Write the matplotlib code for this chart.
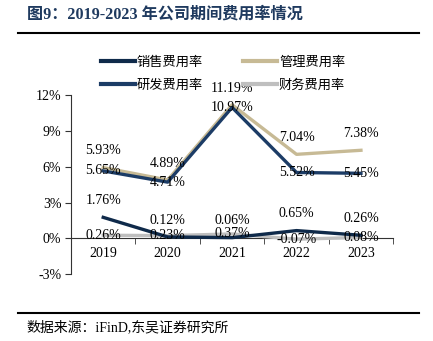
import numpy as np
import matplotlib.pyplot as plt
from matplotlib.lines import Line2D

plt.rcParams['font.family'] = ['Liberation Serif', 'Noto Sans CJK SC', 'DejaVu Sans']

years = ["2019", "2020", "2021", "2022", "2023"]
sales = [1.76, 0.12, 0.06, 0.65, 0.26]
admin = [5.93, 4.89, 11.19, 7.04, 7.38]
rnd = [5.65, 4.71, 10.97, 5.52, 5.45]
finance = [0.26, 0.23, 0.37, -0.07, 0.08]
series_names = ["销售费用率", "管理费用率", "研发费用率", "财务费用率"]

c_sales = "#0f2a4a"
c_admin = "#c7ba95"
c_rnd = "#1c3c66"
c_fin = "#bfbfbf"

fig = plt.figure(figsize=(4.33, 3.41), dpi=100)
ax = fig.add_axes([0.164, 0.196, 0.744, 0.525])

x = np.arange(len(years))
lw = 2.4
ax.plot(x, finance, color=c_fin, lw=lw, zorder=3)
ax.plot(x, admin, color=c_admin, lw=lw, zorder=4)
ax.plot(x, rnd, color=c_rnd, lw=lw, zorder=5)
ax.plot(x, sales, color=c_sales, lw=lw, zorder=6)

fs = 10
# sales and admin labels sit above the point, R&D and finance on it
for vals, dy in [(sales, 12), (admin, 12), (rnd, 0), (finance, 0)]:
    for xi, v in zip(x, vals):
        ax.annotate(f"{v:.2f}%", (xi, v), xytext=(0, dy), textcoords="offset points",
                    ha="center", va="center", fontsize=fs, zorder=10)

ax.set_xlim(-0.5, len(years) - 0.5)
ax.set_ylim(-3, 12)
ax.set_yticks([-3, 0, 3, 6, 9, 12])
ax.set_yticklabels([f"{t}%" for t in [-3, 0, 3, 6, 9, 12]], fontsize=fs)
ax.set_xticks(x)
ax.set_xticklabels(years, fontsize=fs)
ax.set_xticks(np.arange(0.5, len(years), 1.0), minor=True)
ax.tick_params(axis="x", which="major", length=0, pad=6)
ax.tick_params(axis="x", which="minor", length=4, direction="out", color="#333333")
ax.tick_params(axis="y", length=4, direction="out", color="#333333", pad=3)

ax.spines["top"].set_visible(False)
ax.spines["right"].set_visible(False)
ax.spines["bottom"].set_position(("data", 0))
ax.spines["bottom"].set_color("#333333")
ax.spines["left"].set_color("#333333")
ax.spines["bottom"].set_zorder(2)

# legend fills column-wise, so order as sales, R&D | admin, finance
order = [0, 2, 1, 3]
colors = [c_sales, c_admin, c_rnd, c_fin]
handles = [Line2D([], [], color=colors[i], lw=3) for i in order]
labels = [series_names[i] for i in order]
fig.legend(handles, labels, loc="upper left", bbox_to_anchor=(0.205, 0.872),
           ncol=2, frameon=False, handlelength=2.6, handletextpad=0.15,
           columnspacing=3.0, labelspacing=0.75,
           prop={"family": ["Noto Sans CJK SC"], "size": 9.5})

# title, rules, source
fig.text(0.062, 0.956, "图9：2019-2023 年公司期间费用率情况", fontsize=11.6, fontweight="bold",
         color="#1f3a5f", va="center", ha="left",
         family=["Liberation Serif", "Noto Sans CJK SC"])
fig.add_artist(Line2D([0.042, 0.968], [0.903, 0.903], color="black", lw=1.5))
fig.add_artist(Line2D([0.042, 0.968], [0.082, 0.082], color="black", lw=1.5))
fig.text(0.062, 0.041, "数据来源：iFinD,东吴证券研究所", fontsize=10, va="center", ha="left",
         family=["Liberation Serif", "Noto Sans CJK SC"])

fig.savefig("out.png", dpi=100)
